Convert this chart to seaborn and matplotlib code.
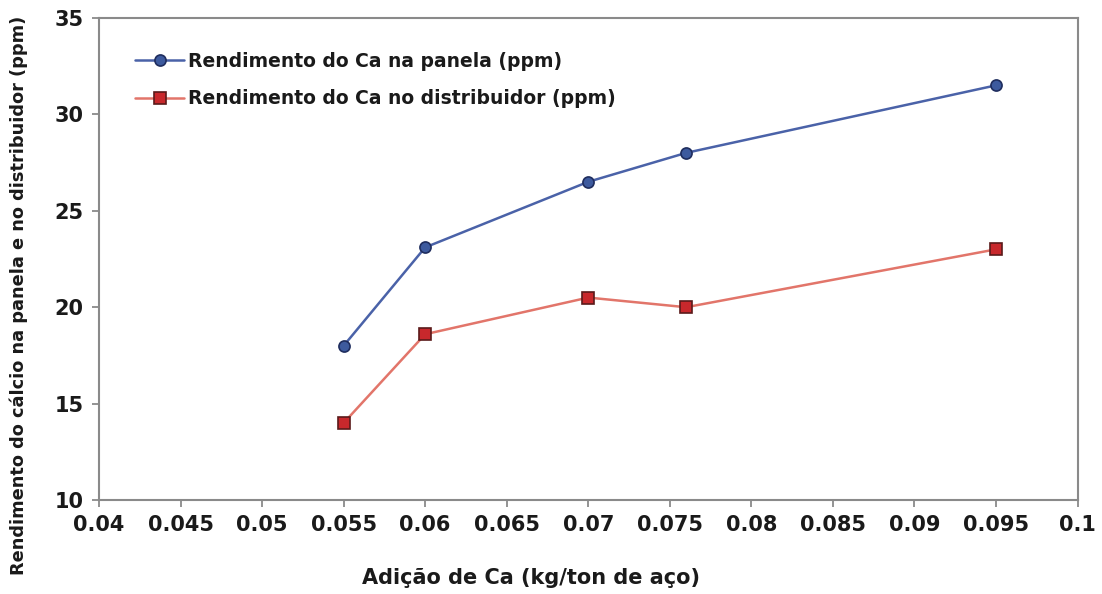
import numpy as np
import pandas as pd
import matplotlib
matplotlib.use("Agg")
import matplotlib.pyplot as plt
import seaborn as sns

# Data
adicao_ca = [0.055, 0.06, 0.07, 0.076, 0.095]
panela = [18.0, 23.1, 26.5, 28.0, 31.5]
distribuidor = [14.0, 18.6, 20.5, 20.0, 23.0]
label_panela = "Rendimento do Ca na panela (ppm)"
label_distrib = "Rendimento do Ca no distribuidor (ppm)"
x_ticks = [0.04, 0.045, 0.05, 0.055, 0.06, 0.065, 0.07, 0.075, 0.08, 0.085, 0.09, 0.095, 0.1]
x_tick_labels = ["0.04", "0.045", "0.05", "0.055", "0.06", "0.065", "0.07", "0.075", "0.08", "0.085", "0.09", "0.095", "0.1"]
y_ticks = [10, 15, 20, 25, 30, 35]

sns.set_theme(style="white")
plt.rcParams['font.family'] = ['DejaVu Sans']

fig = plt.figure(figsize=(11.02, 5.94), dpi=100)
ax = fig.add_axes([0.0898, 0.158, 0.888, 0.812])

sns.lineplot(x=adicao_ca, y=panela, ax=ax, color="#4a62a8", linewidth=1.8,
             marker="o", markersize=8, markerfacecolor="#3d5a9e",
             markeredgecolor="#1f2d5e", markeredgewidth=1.2, label=label_panela)
sns.lineplot(x=adicao_ca, y=distribuidor, ax=ax, color="#e2756a", linewidth=1.8,
             marker="s", markersize=8, markerfacecolor="#c8282c",
             markeredgecolor="#5a1a1a", markeredgewidth=1.2, label=label_distrib)

ax.set_xlim(0.04, 0.1)
ax.set_ylim(10, 35)
ax.set_xticks(x_ticks)
ax.set_xticklabels(x_tick_labels)
ax.set_yticks(y_ticks)

for lbl in ax.get_xticklabels() + ax.get_yticklabels():
    lbl.set_fontweight("bold")
    lbl.set_fontsize(15)
    lbl.set_color("#1a1a1a")

ax.tick_params(axis="both", direction="out", length=5, width=1.2, color="#808080",
               bottom=True, left=True, pad=6)

for s in ax.spines.values():
    s.set_color("#8a8a8a")
    s.set_linewidth(1.5)

ax.set_xlabel("Adição de Ca (kg/ton de aço)", fontsize=15, fontweight="bold", color="#1a1a1a")
ax.xaxis.set_label_coords(0.442, -0.14)
ax.set_ylabel("Rendimento do cálcio na panela e no distribuidor (ppm)", fontsize=12.8,
              fontweight="bold", color="#1a1a1a")
ax.yaxis.set_label_coords(-0.073, 0.425)

leg = ax.legend(loc="upper left", bbox_to_anchor=(0.02, 0.965), frameon=False,
                prop={"weight": "bold", "size": 13.5}, handlelength=2.6,
                handletextpad=0.2, labelspacing=1.0)
for t in leg.get_texts():
    t.set_color("#1a1a1a")

fig.savefig("out.png", dpi=100, facecolor="white")
